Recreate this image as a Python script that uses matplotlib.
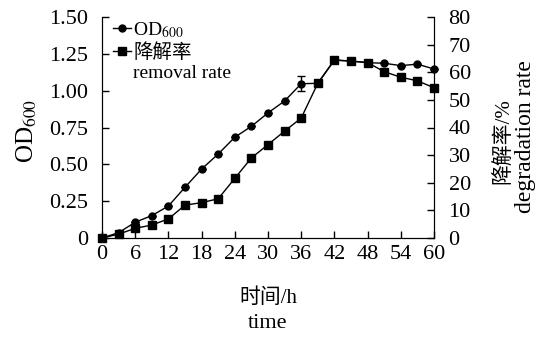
import matplotlib
matplotlib.use('Agg')
import matplotlib.pyplot as plt
from matplotlib.lines import Line2D

plt.rcParams['font.family'] = ['Liberation Serif', 'Noto Sans CJK SC']
plt.rcParams['mathtext.fontset'] = 'stix'

# sampling time (h)
time_h = [0, 3, 6, 9, 12, 15, 18, 21, 24, 27, 30, 33, 36, 39, 42, 45, 48, 51, 54, 57, 60]
# OD600
od600 = [0, 0.036, 0.107, 0.152, 0.217, 0.344, 0.468, 0.57, 0.684, 0.758, 0.849, 0.93,
         1.047, 1.05, 1.208, 1.20, 1.19, 1.186, 1.17, 1.18, 1.147]
od_err = [0, 0, 0, 0, 0, 0, 0, 0, 0, 0, 0, 0, 0.05, 0, 0, 0, 0, 0, 0, 0, 0]
# removal rate (%)
removal = [0, 1.4, 3.5, 4.7, 6.9, 11.9, 12.8, 14.2, 21.6, 29.0, 33.8, 38.7,
           43.4, 56.0, 64.4, 64.1, 63.5, 60.2, 58.2, 56.9, 54.4]

W, H = 536, 338
fig = plt.figure(figsize=(W / 100, H / 100), dpi=100)
ax = fig.add_axes([102 / W, 1 - 238 / H, 332 / W, 221 / H])
ax2 = ax.twinx()

ax.errorbar(time_h, od600, yerr=od_err, color='black', marker='o', markersize=5,
            linewidth=1, capsize=3, elinewidth=1, clip_on=False, zorder=3)
ax2.plot(time_h, removal, color='black', marker='s', markersize=6,
         linewidth=1, clip_on=False, zorder=3)

ax.set_xlim(0, 60)
ax.set_ylim(0, 1.5)
ax2.set_ylim(0, 80)
ax.set_xticks(range(0, 61, 6))
ax.set_yticks([0, 0.25, 0.5, 0.75, 1.0, 1.25, 1.5])
ax.set_yticklabels(['0', '0.25', '0.50', '0.75', '1.00', '1.25', '1.50'])
ax2.set_yticks(range(0, 81, 10))

for a in (ax, ax2):
    a.spines['top'].set_visible(False)
    a.tick_params(direction='in', labelsize=16, length=5, width=1)
ax.tick_params(axis='x', pad=5)
ax.tick_params(axis='y', pad=10)
ax2.tick_params(axis='y', pad=10.5)

# axis titles
fig.text(268 / W, 1 - 298 / H, '时间/h', ha='center', va='center', fontsize=15)
fig.text(268 / W, 1 - 323 / H, 'time', ha='center', va='center', fontsize=16)
fig.text(27 / W, 1 - 131 / H, 'OD$_{600}$', ha='center', va='center', fontsize=18, rotation=90)
fig.text(503 / W, 1 - 141 / H, '降解率/%', ha='center', va='center', fontsize=15, rotation=90)
fig.text(525 / W, 1 - 137 / H, 'degradation rate', ha='center', va='center', fontsize=17, rotation=90)

handles = [Line2D([], [], color='black', marker='o', markersize=5, linewidth=1),
           Line2D([], [], color='black', marker='s', markersize=6, linewidth=1),
           Line2D([], [], linestyle='none')]
ax.legend(handles, ['OD$_{600}$', '降解率', 'removal rate'], loc='upper left',
          bbox_to_anchor=(113 / W, 1 - 20 / H), bbox_transform=fig.transFigure,
          frameon=False, fontsize=14, handlelength=0.9, handletextpad=0.15,
          borderaxespad=0, borderpad=0, labelspacing=0.15)

plt.savefig('out.png', dpi=100)
